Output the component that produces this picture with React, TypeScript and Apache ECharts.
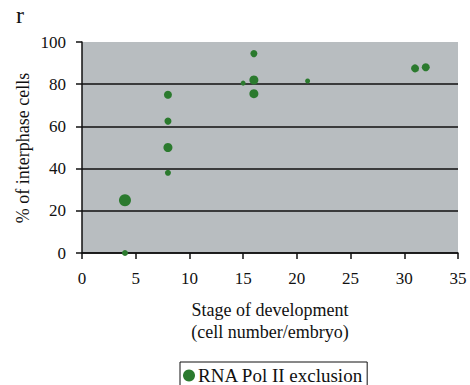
import React, { useEffect, useRef } from "react";
import * as echarts from "echarts";

const stageX = [4, 4, 8, 8, 8, 8, 15, 16, 16, 16, 21, 31, 32];
const percentY = [25, 0, 75, 62.5, 50, 38, 80.5, 94.5, 82, 75.5, 81.5, 87.5, 88];
const markerSize = [12, 6, 8, 7, 9, 6, 5, 7, 9, 9, 5, 8, 8];
const xTicks = [0, 5, 10, 15, 20, 25, 30, 35];
const yTicks = [0, 20, 40, 60, 80, 100];
const seriesName = "RNA Pol II exclusion";

export default function App() {
  const ref = useRef<HTMLDivElement>(null);
  useEffect(() => {
    if (!ref.current) return;
    const chart = echarts.init(ref.current, undefined, { renderer: "svg" });
    const font = "Liberation Serif";
    const green = "#2b7a2e";
    const lab = { fontFamily: font, fontSize: 17, color: "#111" };
    chart.setOption({
      animation: false,
      backgroundColor: "#ffffff",
      textStyle: { fontFamily: font, color: "#111" },
      grid: {
        left: 82,
        right: 12,
        top: 42,
        bottom: 132,
        show: true,
        backgroundColor: "#b8bdc0",
        borderWidth: 0,
      },
      graphic: [
        {
          type: "text",
          left: 16,
          top: 3,
          style: { text: "r", fontFamily: font, fontSize: 24, fill: "#111" },
        },
        {
          type: "text",
          x: 270,
          y: 310,
          style: {
            text: "Stage of development",
            fontFamily: font,
            fontSize: 18,
            fill: "#111",
            align: "center",
            verticalAlign: "middle",
          },
        },
        {
          type: "text",
          x: 270,
          y: 332,
          style: {
            text: "(cell number/embryo)",
            fontFamily: font,
            fontSize: 18,
            fill: "#111",
            align: "center",
            verticalAlign: "middle",
          },
        },
        {
          type: "text",
          x: 23,
          y: 148,
          rotation: Math.PI / 2,
          style: {
            text: "% of interphase cells",
            fontFamily: font,
            fontSize: 18,
            fill: "#111",
            align: "center",
            verticalAlign: "middle",
          },
        },
      ],
      legend: {
        data: [{ name: seriesName, icon: "circle" }],
        bottom: -8,
        left: 180,
        itemWidth: 12,
        itemHeight: 12,
        itemGap: 4,
        borderColor: "#111",
        borderWidth: 1,
        padding: [4, 4, 8, 3],
        textStyle: { fontFamily: font, fontSize: 19, color: "#111", padding: [0, 0, 0, -2] },
      },
      xAxis: {
        type: "value",
        min: xTicks[0],
        max: xTicks[xTicks.length - 1],
        interval: 5,
        axisLine: { show: true, lineStyle: { color: "#111", width: 1.5 } },
        axisTick: { show: true, length: 6, lineStyle: { color: "#111", width: 1.5 } },
        axisLabel: { ...lab, margin: 17 },
        splitLine: { show: false },
      },
      yAxis: {
        type: "value",
        min: yTicks[0],
        max: yTicks[yTicks.length - 1],
        interval: 20,
        axisLine: { show: true, lineStyle: { color: "#111", width: 1.5 } },
        axisTick: { show: true, length: 6, lineStyle: { color: "#111", width: 1.5 } },
        axisLabel: { ...lab, margin: 16 },
        splitLine: { show: true, showMaxLine: false, lineStyle: { color: "#111", width: 1.5 } },
      },
      series: [
        {
          name: seriesName,
          type: "scatter",
          data: stageX.map((x, i) => ({ value: [x, percentY[i]], symbolSize: markerSize[i] })),
          itemStyle: { color: green, opacity: 1 },
          z: 5,
        },
      ],
    });
    return () => chart.dispose();
  }, []);
  return (
    <div
      ref={ref}
      style={{ position: "fixed", left: 0, top: 0, width: 470, height: 385 }}
    />
  );
}
